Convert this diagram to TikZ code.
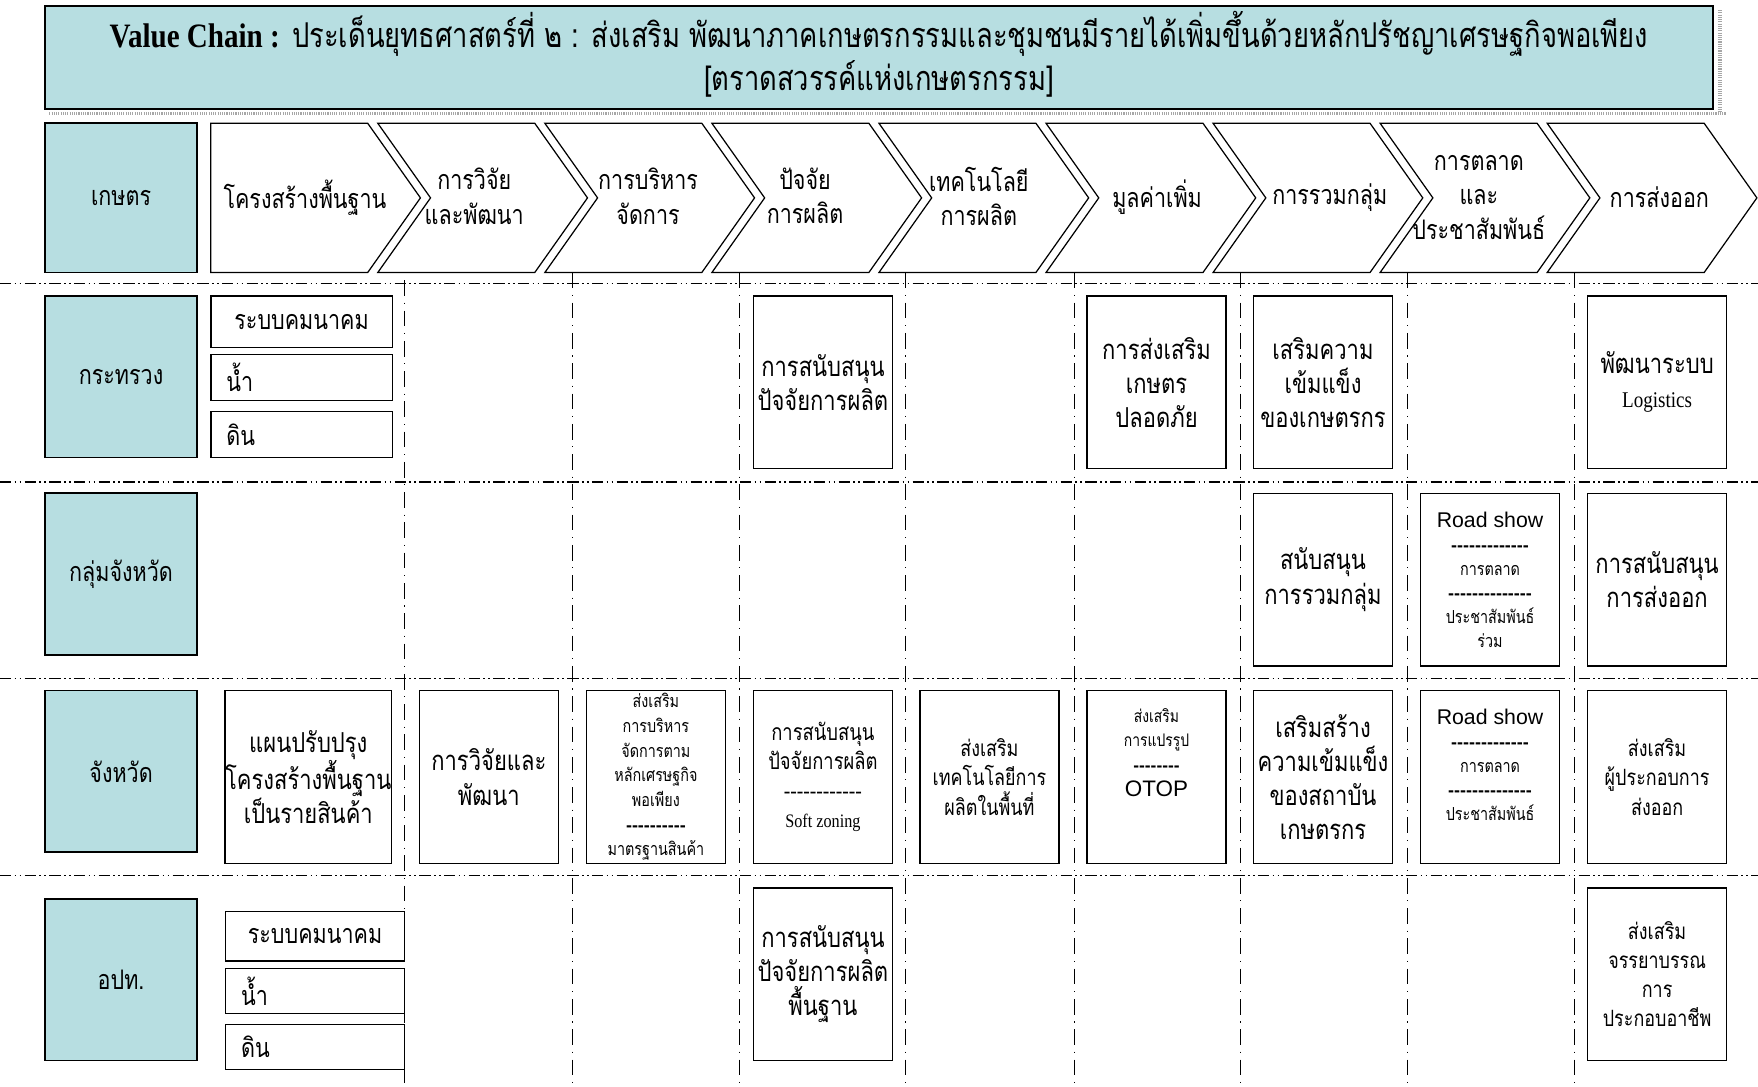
\documentclass[tikz,border=0pt]{standalone}
\usepackage{fontspec}
\setmainfont{Loma}[Script=Thai,FakeStretch=0.8]
\newfontfamily\tnr{Liberation Serif}[FakeStretch=0.85]
\newfontfamily\arl{Liberation Sans}
\definecolor{tealc}{RGB}{183,222,225}
\newcommand\fT{\fontsize{30.5}{38}\selectfont}
\newcommand\fN{\fontsize{24.5}{30.5}\selectfont}
\newcommand\fC{\fontsize{24}{30.5}\selectfont}
\newcommand\fM{\fontsize{20}{26}\selectfont}
\newcommand\fS{\fontsize{16}{21.5}\selectfont}
\begin{document}
\begin{tikzpicture}[x=1pt,y=-1pt,
  titlebox/.style={draw=black,line width=1.6pt,fill=tealc,minimum width=1488pt,minimum height=92pt,align=center,inner sep=0pt,font=\fT},
  lab/.style={draw=black,line width=1.5pt,fill=tealc,minimum width=136pt,minimum height=144pt,align=center,inner sep=0pt,font=\fC},
  cell/.style={draw=black,line width=1.3pt,fill=white,minimum width=124pt,minimum height=154pt,align=center,inner sep=0pt,font=\fN},
  lcell/.style={cell,align=left,text width=134pt,inner xsep=14pt,inner ysep=0pt},
  chev/.style={draw=black,line width=1.1pt,fill=white},
  ctext/.style={align=center,inner sep=0pt,font=\fC},
  hgrid/.style={line width=1.1pt,dash pattern=on 10pt off 3pt on 1.5pt off 3pt on 1.5pt off 3pt},
  vgrid/.style={line width=0.9pt,dash pattern=on 14pt off 6pt on 1pt off 6pt},
  shade/.style={gray!70,line width=3pt,dash pattern=on 1pt off 1pt}
]
\useasboundingbox (0,0) rectangle (1568,969.5);

% title shadow
\draw[shade] (44,101) -- (1540,101);
\draw[shade] (1534,9) -- (1534,101);
\node[titlebox] (title) at (784,51) {};
\node[align=center,inner sep=0pt,font=\fT] (titletext) at (784,48.5)
  {{\tnr\bfseries Value Chain :} ประเด็นยุทธศาสตร์ที่ ๒ : ส่งเสริม พัฒนาภาคเกษตรกรรมและชุมชนมีรายได้เพิ่มขึ้นด้วยหลักปรัชญาเศรษฐกิจพอเพียง\\\relax
  [ตราดสวรรค์แห่งเกษตรกรรม]};

% grid
\foreach \yy in {253,430,605,781}{\draw[hgrid] (0,\yy) -- (1568,\yy);}
\draw[vgrid] (361,250) -- (361,966);
\foreach \xx in {511,660,808,958,1106,1255,1404}{\draw[vgrid] (\xx,243) -- (\xx,966);}

% header row
\node[lab] (h0) at (108,176.5) [minimum height=133pt] {เกษตร};
\draw[chev] (188,110) -- ++(140,0) -- ++(47,66.5) -- ++(-47,66.5) -- ++(-140,0) -- cycle;
\foreach \i in {1,...,8}{
  \pgfmathsetmacro\L{188+149*\i}
  \draw[chev] (\L,110) -- ++(140,0) -- ++(47,66.5) -- ++(-47,66.5) -- ++(-140,0) -- ++(47,-66.5) -- cycle;
}
\node[ctext] (c0) at (272,176) {โครงสร้างพื้นฐาน};
\node[ctext] (c1) at (423,175) {การวิจัย\\และพัฒนา};
\node[ctext] (c2) at (578,175) {การบริหาร\\จัดการ};
\node[ctext] (c3) at (718,175) {ปัจจัย\\การผลิต};
\node[ctext] (c4) at (873,175) {เทคโนโลยี\\การผลิต};
\node[ctext] (c5) at (1032,176) {มูลค่าเพิ่ม};
\node[ctext] (c6) at (1186,176) {การรวมกลุ่ม};
\node[ctext] (c7) at (1319,176) {การตลาด\\และ\\ประชาสัมพันธ์};
\node[ctext] (c8) at (1480,176) {การส่งออก};

% row 1 : กระทรวง
\node[lab] (t1) at (108,336) {กระทรวง};
\node[cell,minimum width=162pt,minimum height=46pt,font=\fC] (k1) at (269,287) {ระบบคมนาคม};
\node[lcell,minimum width=162pt,minimum height=41pt,font=\fC] (k2) at (269,336.5) {น้ำ};
\node[lcell,minimum width=162pt,minimum height=41pt,font=\fC] (k3) at (269,387.5) {ดิน};
\node[cell] (k4) at (734,341) {การสนับสนุน\\ปัจจัยการผลิต};
\node[cell] (k5) at (1031.5,341) {การส่งเสริม\\เกษตร\\ปลอดภัย};
\node[cell] (k6) at (1180,341) {เสริมความ\\เข้มแข็ง\\ของเกษตรกร};
\node[cell] (k7) at (1478,341) {พัฒนาระบบ\\{\tnr\fontsize{20}{30.5}\selectfont Logistics}};

% row 2 : กลุ่มจังหวัด
\node[lab] (t2) at (108,512) {กลุ่มจังหวัด};
\node[cell] (g1) at (1180,517) {สนับสนุน\\การรวมกลุ่ม};
\node[cell,font=\fS] (g2) at (1329,517) {{\arl\fontsize{19}{21.5}\selectfont Road show}\\{\arl\bfseries -------------}\\การตลาด\\{\arl\bfseries --------------}\\ประชาสัมพันธ์\\ร่วม};
\node[cell] (g3) at (1478,517) {การสนับสนุน\\การส่งออก};

% row 3 : จังหวัด
\node[lab] (t3) at (108,688) {จังหวัด};
\node[cell,minimum width=148pt] (p1) at (275,693) {แผนปรับปรุง\\โครงสร้างพื้นฐาน\\เป็นรายสินค้า};
\node[cell] (p2) at (436,693) {การวิจัยและ\\พัฒนา};
\node[cell,font=\fontsize{16}{22}\selectfont] (p3) at (585,693) {ส่งเสริม\\การบริหาร\\จัดการตาม\\หลักเศรษฐกิจ\\พอเพียง\\{\arl\bfseries ----------}\\มาตรฐานสินค้า};
\node[cell,font=\fontsize{20.5}{26}\selectfont] (p4) at (734,693) {การสนับสนุน\\ปัจจัยการผลิต\\{\tnr ------------}\\{\tnr\fontsize{17}{26}\selectfont Soft zoning}};
\node[cell,font=\fM] (p5) at (882.5,693) {ส่งเสริม\\เทคโนโลยีการ\\ผลิตในพื้นที่};
\node[cell,font=\fontsize{15.5}{22}\selectfont] (p6) at (1031.5,693) {ส่งเสริม\\การแปรรูป\\{\arl\bfseries --------}\\{\arl\fontsize{20}{22}\selectfont OTOP}\\\mbox{}\\\mbox{}};
\node[cell] (p7) at (1180,693) {เสริมสร้าง\\ความเข้มแข็ง\\ของสถาบัน\\เกษตรกร};
\node[cell,font=\fS] (p8) at (1329,693) {{\arl\fontsize{19}{21.5}\selectfont Road show}\\{\arl\bfseries -------------}\\การตลาด\\{\arl\bfseries --------------}\\ประชาสัมพันธ์\\\mbox{}};
\node[cell,font=\fM] (p9) at (1478,693) {ส่งเสริม\\ผู้ประกอบการ\\ส่งออก};

% row 4 : อปท.
\node[lab] (t4) at (108,874) {อปท.};
\node[cell,minimum width=160pt,minimum height=44pt,font=\fC] (l1) at (281,835) {ระบบคมนาคม};
\node[lcell,minimum width=160pt,text width=132pt,minimum height=40pt,font=\fC] (l2) at (281,884) {น้ำ};
\node[lcell,minimum width=160pt,text width=132pt,minimum height=40pt,font=\fC] (l3) at (281,934) {ดิน};
\node[cell] (l4) at (734,869) {การสนับสนุน\\ปัจจัยการผลิต\\พื้นฐาน};
\node[cell,font=\fM] (l5) at (1478,869) {ส่งเสริม\\จรรยาบรรณ\\การ\\ประกอบอาชีพ};
\end{tikzpicture}
\end{document}
